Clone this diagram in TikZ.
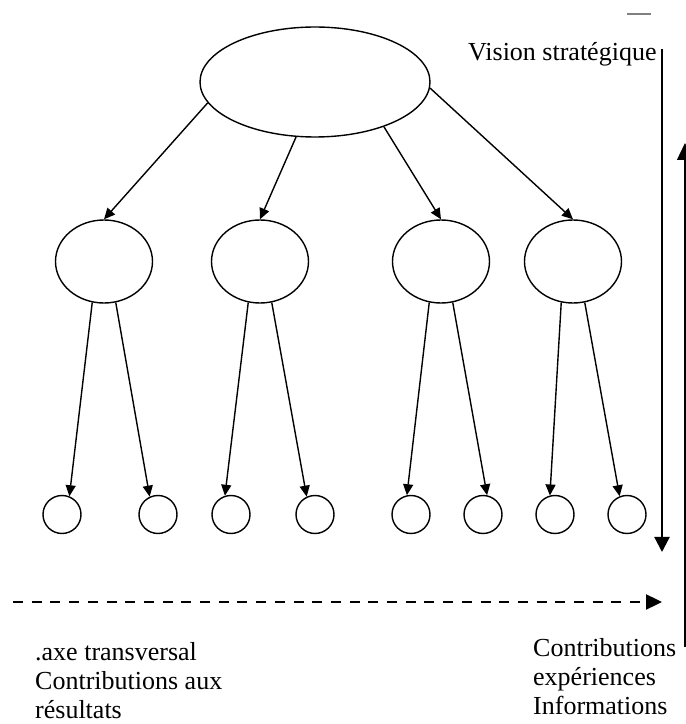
\documentclass[tikz,border=0pt]{standalone}
\usepackage{fontspec}
\setmainfont{Liberation Serif}
\usetikzlibrary{arrows.meta,shapes.geometric}

\begin{document}
\begin{tikzpicture}[x=1pt,y=1pt,>={Triangle[length=11pt,width=10pt]}]
\tikzstyle{oval}=[draw,ellipse,line width=1.4pt,inner sep=0pt]
\tikzstyle{leaf}=[draw,circle,line width=1.4pt,inner sep=0pt,minimum size=38pt]
\tikzstyle{txt}=[inner sep=0pt,font=\fontsize{26}{29}\selectfont]
\tikzstyle{branch}=[->,line width=1.4pt]
\useasboundingbox (0,0) rectangle (686,724);

\node[oval,minimum width=230pt,minimum height=110pt] (top) at (315,642) {};
\foreach \n/\x in {1/104,2/260,3/441,4/573}
  \node[oval,minimum width=97pt,minimum height=83pt] (m\n) at (\x,462.5) {};
\foreach \n/\x in {1/62,2/158,3/231,4/315,5/411,6/483,7/555,8/627}
  \node[leaf] (c\n) at (\x,209.5) {};

\draw[branch] (top.191) -- (m1.north);
\draw[branch] (top.251) -- (m2.north);
\draw[branch] (top.327) -- (m3.north);
\draw[branch] (top.357) -- (m4.north);
\foreach \m/\l/\la/\r/\ra in {1/1/68/2/115,2/3/108/4/115,3/5/102/6/78,4/7/105/8/112}{
  \draw[branch] (m\m.254) -- (c\l.\la);
  \draw[branch] (m\m.286) -- (c\r.\ra);
}

\node[txt,anchor=base west] (vision) at (468,663.3) {Vision stratégique};
\node[txt,anchor=north west,align=left] (contrib) at (533,86) {Contributions\\expériences\\Informations};
\node[txt,anchor=north west,align=left] (axe) at (35,82) {.axe transversal\\Contributions aux\\résultats};

\coordinate (down1) at (662,675);
\coordinate (down2) at (662,172);
\coordinate (up1) at (685,77);
\coordinate (up2) at (685,581);
\coordinate (dash1) at (13,122);
\coordinate (dash2) at (662,122);
\coordinate (mark1) at (627,710);
\coordinate (mark2) at (651,710);
\draw[line width=2.2pt,-{Triangle[length=15pt,width=15pt]}] (down1) -- (down2);
\draw[line width=1.2pt,-{Triangle[length=17pt,width=16pt]}] (up1) -- (up2);
\draw[line width=2.4pt,dash pattern=on 10pt off 8.7pt,-{Triangle[length=16pt,width=15pt]}] (dash1) -- (dash2);
\draw[gray,line width=1.3pt] (mark1) -- (mark2);
\end{tikzpicture}
\end{document}
